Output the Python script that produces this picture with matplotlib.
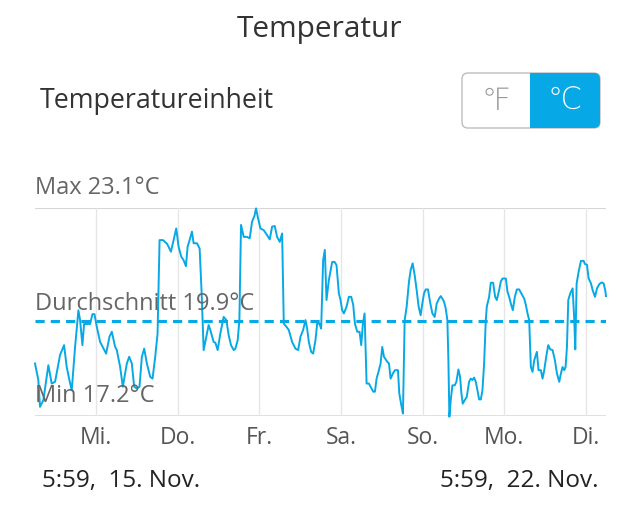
import numpy as np
import matplotlib
matplotlib.use("Agg")
import matplotlib.pyplot as plt
from matplotlib.patches import FancyBboxPatch, Rectangle

plt.rcParams['font.family'] = ['Open Sans', 'DejaVu Sans']

# --- Data (hours since 15. Nov 5:59, temperature in °C) ---
hours = [0.0, 0.98, 1.47, 2.46, 3.93, 4.91, 5.90, 7.37, 8.55, 9.33, 10.12, 10.81, 11.79, 12.77,
         13.26, 13.95, 14.44, 15.43, 16.21, 16.90, 17.49, 18.18, 19.16, 20.93, 21.91, 22.60,
         23.58, 24.07, 25.05, 25.84, 27.02, 27.71, 28.49, 29.18, 29.97, 30.75, 31.44, 32.13,
         32.91, 33.90, 34.58, 35.37, 36.06, 36.65, 37.63, 38.81, 39.30, 39.99, 40.77, 41.56,
         42.25, 43.03, 43.72, 44.41, 44.90, 45.49, 46.18, 46.67, 47.65, 48.44, 49.03, 49.62,
         50.40, 51.09, 51.58, 52.56, 53.06, 53.74, 54.53, 55.51, 56.30, 56.99, 57.67, 58.46,
         58.95, 59.64, 60.13, 60.62, 61.41, 62.39, 63.17, 63.86, 64.55, 65.04, 65.53, 66.32,
         67.30, 68.28, 69.07, 69.76, 70.54, 71.23, 72.02, 72.71, 73.20, 73.98, 74.67, 75.65,
         76.64, 77.42, 78.11, 78.89, 79.58, 80.07, 80.57, 81.25, 81.84, 82.52, 83.02, 83.70,
         84.19, 84.78, 85.27, 85.77, 86.45, 87.44, 88.12, 88.71, 89.40, 89.89, 90.38, 90.88,
         91.66, 92.35, 93.04, 93.63, 94.12, 94.81, 95.49, 95.98, 96.48, 96.97, 97.56, 98.24,
         98.74, 99.52, 100.01, 100.50, 101.19, 101.68, 102.17, 102.67, 103.65, 104.14, 104.63,
         105.32, 105.91, 106.79, 107.18, 107.77, 108.26, 108.76, 109.35, 110.03, 110.53, 111.11,
         111.70, 112.29, 112.88, 113.47, 113.96, 114.46, 114.95, 115.63, 116.22, 116.91, 117.60,
         118.19, 118.88, 119.37, 119.86, 120.35, 120.84, 121.33, 121.63, 121.92, 122.32, 122.81,
         123.49, 123.98, 124.57, 125.07, 125.46, 125.85, 126.44, 127.03, 127.72, 128.21, 128.70,
         129.19, 129.68, 130.18, 130.67, 131.16, 131.65, 132.14, 132.63, 132.93, 133.61, 134.10,
         134.79, 135.38, 135.87, 136.56, 137.05, 137.54, 138.53, 139.02, 139.51, 140.00, 140.59,
         141.18, 141.77, 142.46, 142.95, 143.93, 144.42, 144.91, 145.40, 145.89, 146.38, 146.88,
         147.66, 148.15, 148.84, 149.33, 149.83, 150.41, 151.00, 151.59, 152.28, 152.97, 153.56,
         154.24, 154.74, 155.23, 155.72, 156.11, 156.51, 156.90, 157.49, 158.18, 158.67, 158.96,
         159.36, 159.94, 160.63, 161.42, 161.81, 162.40, 162.89, 163.58, 164.07, 164.76, 165.35,
         166.04, 166.73, 167.31, 167.80, 168.0]
temps = [18.69, 18.22, 17.46, 17.65, 18.64, 18.12, 18.17, 18.93, 19.21, 18.59, 18.22, 17.93,
         19.16, 20.20, 19.92, 19.21, 19.81, 19.81, 19.81, 20.09, 20.09, 19.73, 19.30, 18.97,
         19.45, 19.59, 19.16, 19.07, 18.59, 18.03, 18.69, 18.88, 18.69, 18.03, 17.98, 18.03,
         18.88, 19.11, 18.69, 18.31, 18.26, 18.88, 19.54, 22.19, 22.19, 22.09, 22.00, 21.86,
         22.19, 22.52, 22.00, 21.72, 21.62, 21.45, 22.00, 22.19, 22.43, 22.10, 22.10, 21.95,
         20.68, 19.07, 19.45, 19.78, 19.64, 19.30, 19.28, 19.07, 19.54, 20.01, 19.92, 19.49,
         19.21, 19.07, 19.11, 19.35, 19.92, 22.62, 22.28, 22.28, 22.24, 22.71, 22.87, 23.09,
         22.85, 22.52, 22.47, 22.33, 22.21, 22.57, 22.59, 22.28, 22.14, 22.38, 19.82, 19.73,
         19.64, 19.30, 19.11, 19.07, 19.45, 19.64, 19.92, 19.68, 19.30, 19.02, 18.97, 19.35,
         19.82, 19.82, 19.68, 21.62, 21.91, 20.49, 21.05, 21.57, 21.57, 21.48, 20.68, 20.49,
         20.20, 20.11, 20.30, 20.58, 20.58, 20.35, 19.82, 19.59, 19.59, 19.21, 19.82, 20.11,
         18.12, 18.12, 18.03, 17.89, 17.89, 18.26, 18.50, 18.69, 19.16, 18.88, 18.74, 18.69,
         18.26, 18.41, 18.50, 18.50, 17.84, 17.51, 17.27, 19.92, 20.30, 21.01, 21.34, 21.53,
         21.20, 20.77, 20.30, 20.06, 20.39, 20.68, 20.79, 20.79, 20.44, 20.11, 20.01, 20.39,
         20.53, 20.60, 20.53, 20.44, 20.25, 19.92, 18.78, 17.18, 17.65, 18.07, 18.07, 18.17,
         18.52, 18.31, 17.84, 17.55, 17.65, 17.74, 18.17, 18.26, 18.22, 18.29, 18.17, 17.93,
         17.67, 17.67, 17.93, 18.69, 19.92, 20.30, 20.58, 20.98, 20.98, 20.58, 20.49, 20.77,
         21.01, 21.10, 21.10, 20.72, 20.58, 20.39, 20.20, 20.58, 20.79, 20.79, 20.70, 20.53,
         20.35, 20.11, 19.92, 18.59, 18.45, 18.78, 19.02, 18.50, 18.50, 18.26, 18.50, 18.88,
         19.21, 19.09, 19.07, 18.78, 18.41, 18.17, 18.41, 18.59, 18.50, 18.59, 19.16, 20.49,
         20.68, 20.82, 19.92, 19.09, 20.96, 21.29, 21.60, 21.60, 21.51, 21.49, 21.10, 20.96,
         20.77, 20.58, 20.82, 20.94, 20.99, 20.96, 20.75, 20.60]

t_max = 23.1
t_min = 17.2
t_avg = 19.9

# midnight of each day, counted from the 5:59 start
day_ticks = [18.02, 42.02, 66.02, 90.02, 114.02, 138.02, 162.02]
day_labels = ["Mi.", "Do.", "Fr.", "Sa.", "So.", "Mo.", "Di."]

start_label = "5:59,  15. Nov."
end_label = "5:59,  22. Nov."

blue = "#06A9E6"
W, H = 640, 505

fig = plt.figure(figsize=(W / 100, H / 100), dpi=100)


def fx(px):
    return px / W


def fy(py):
    return 1 - py / H


# --- Header ---
fig.text(fx(320), fy(29), "Temperatur", ha="center", va="center", fontsize=21.5, color="#333333")
fig.text(fx(40), fy(101), "Temperatureinheit", ha="left", va="center", fontsize=19.3, color="#333333")

# unit toggle, drawn on an overlay axes in pixel units
deco = fig.add_axes([0, 0, 1, 1])
deco.set_xlim(0, W)
deco.set_ylim(H, 0)
deco.axis("off")
box = FancyBboxPatch((462, 73), 138, 55, boxstyle="round,pad=0,rounding_size=6",
                     facecolor="white", edgecolor="#bdbdbd", linewidth=1.0)
deco.add_patch(box)
sel = Rectangle((530, 72), 71, 57, facecolor=blue, edgecolor="none")
deco.add_patch(sel)
sel.set_clip_path(box)
deco.text(496, 101, "℉", ha="center", va="center", fontsize=22, color="#9a9a9a",
          family=["DejaVu Sans"], fontweight="light")
deco.text(565, 101, "℃", ha="center", va="center", fontsize=22, color="white",
          family=["DejaVu Sans"], fontweight="light")

# --- Chart ---
ax = fig.add_axes([fx(35), fy(416), fx(606) - fx(35), (416 - 208) / H])
ax.plot(hours, temps, color=blue, linewidth=1.4, clip_on=False, zorder=3)
ax.axhline(t_avg, color=blue, linewidth=2.2, linestyle=(0, (3, 2)), zorder=2)
ax.axhline(t_max, color="#d6d6d6", linewidth=1.5, zorder=1)
ax.axhline(t_min, color="#d6d6d6", linewidth=1.8, zorder=1)
ax.set_xlim(0, 168)
ax.set_ylim(t_min, t_max)
ax.set_xticks(day_ticks)
ax.set_xticklabels(day_labels, fontsize=16.5, color="#555555")
ax.tick_params(axis="x", length=0, pad=7)
ax.set_yticks([])
ax.grid(axis="x", color="#e6e6e6", linewidth=1.0)
for s in ax.spines.values():
    s.set_visible(False)

fig.text(fx(35), fy(194), "Max %.1f°C" % t_max, ha="left", va="baseline", fontsize=17, color="#666666")
fig.text(fx(35), fy(310), "Durchschnitt %.1f°C" % t_avg, ha="left", va="baseline", fontsize=17,
         color="#666666", zorder=5)
fig.text(fx(35), fy(402), "Min %.1f°C" % t_min, ha="left", va="baseline", fontsize=17,
         color="#666666", zorder=5)

# --- Time range ---
fig.text(fx(42), fy(481), start_label, ha="left", va="center", fontsize=17.5, color="#222222")
fig.text(fx(598), fy(481), end_label, ha="right", va="center", fontsize=17.5, color="#222222")

fig.savefig("out.png", dpi=100)
